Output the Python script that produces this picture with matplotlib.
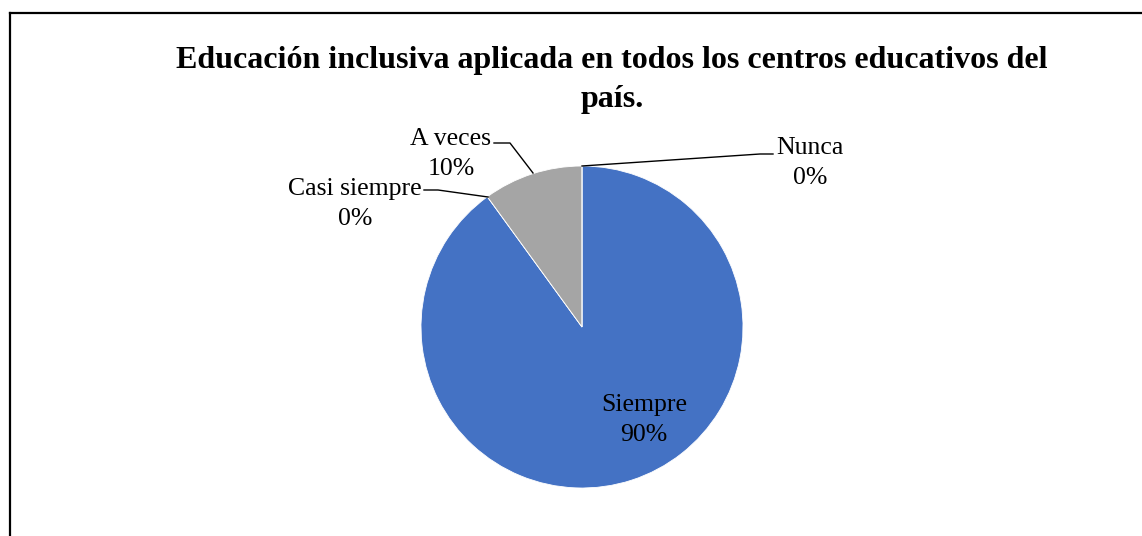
import matplotlib
matplotlib.use("Agg")
import matplotlib.pyplot as plt
from matplotlib.lines import Line2D

plt.rcParams['font.family'] = ['Liberation Serif', 'DejaVu Serif']

# data
categorias = ['Siempre', 'Casi siempre', 'A veces', 'Nunca']
valores = [90, 0, 10, 0]
colores = ['#4472C4', '#ED7D31', '#A5A5A5', '#FFC000']
titulo = 'Educación inclusiva aplicada en todos los centros educativos del\npaís.'

W, H = 1142, 536
fig = plt.figure(figsize=(W / 100, H / 100), dpi=100)
ax = fig.add_axes([0, 0, 1, 1])

# pie placed in pixel coordinates (y up)
cx, cy, r = 582, H - 327, 161
ax.pie(valores, colors=colores, startangle=90, counterclock=False,
       center=(cx, cy), radius=r,
       wedgeprops=dict(edgecolor='white', linewidth=0.6))
ax.set_xlim(0, W)
ax.set_ylim(0, H)
ax.axis('off')

total = sum(valores)
pct = ['%d%%' % round(100 * v / total) for v in valores]

# label positions (pixels, y from top) and leader lines
pos = {
    'Siempre': (644, 420),
    'Casi siempre': (355, 204),
    'A veces': (451, 154),
    'Nunca': (810, 163),
}
lineas = {
    'Casi siempre': [(424, 190), (438, 190), (488, 197)],
    'A veces': [(494, 143), (510, 143), (533, 173)],
    'Nunca': [(582, 166), (760, 154), (773, 154)],
}
for cat, p in zip(categorias, pct):
    x, y = pos[cat]
    ax.text(x, H - y, cat + '\n' + p, ha='center', va='center',
            fontsize=18.5, linespacing=1.45, color='black')
    if cat in lineas:
        xs = [q[0] for q in lineas[cat]]
        ys = [H - q[1] for q in lineas[cat]]
        ax.plot(xs, ys, color='black', lw=1)

fig.text(612 / W, 1 - 80 / H, titulo, ha='center', va='center',
         fontsize=23, fontweight='bold', linespacing=1.48)

# chart frame (right and bottom edges fall outside the image)
fig.add_artist(Line2D([9.5 / W, 9.5 / W], [0, 1 - 13 / H], color='black', lw=1.6,
                      transform=fig.transFigure))
fig.add_artist(Line2D([9.5 / W, 1], [1 - 13 / H, 1 - 13 / H], color='black', lw=1.6,
                      transform=fig.transFigure))

fig.savefig('out.png', dpi=100, facecolor='white')
